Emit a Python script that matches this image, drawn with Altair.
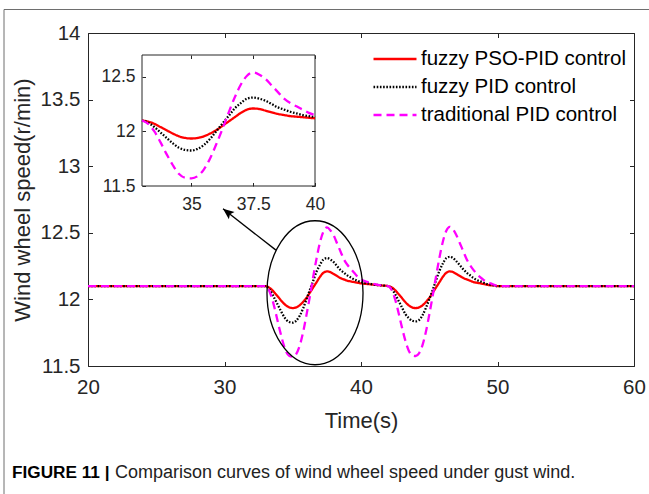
import altair as alt
import pandas as pd

# ---------------- values ----------------
time_s = [20, 25, 30, 32,
          33.0, 33.25, 33.5, 33.75, 34.0, 34.25, 34.5, 34.75, 35.0, 35.25, 35.5, 35.75,
          36.0, 36.25, 36.5, 36.75, 37.0, 37.25, 37.5, 37.75, 38.0, 38.25, 38.5, 38.75,
          39.0, 39.25, 39.5, 39.75, 40.0, 40.5, 41.0, 41.5,
          42.0, 42.25, 42.5, 42.75, 43.0, 43.25, 43.5, 43.75, 44.0, 44.25, 44.5, 44.75,
          45.0, 45.25, 45.5, 45.75, 46.0, 46.25, 46.5, 46.75, 47.0, 47.25, 47.5, 47.75,
          48.0, 48.25, 48.5, 48.75, 49.0, 49.25, 49.5, 49.75, 50.0,
          51, 52, 55, 60]

fuzzy_pso_pid = [12.10, 12.10, 12.10, 12.10,
                 12.10, 12.09, 12.07, 12.04, 12.01, 11.98, 11.955, 11.94, 11.935, 11.94, 11.955, 11.98,
                 12.01, 12.05, 12.09, 12.13, 12.17, 12.20, 12.21, 12.205, 12.19, 12.175, 12.16, 12.15,
                 12.14, 12.135, 12.13, 12.125, 12.12, 12.115, 12.11, 12.105,
                 12.10, 12.09, 12.07, 12.04, 12.01, 11.98, 11.955, 11.94, 11.935, 11.94, 11.955, 11.98,
                 12.01, 12.05, 12.09, 12.13, 12.17, 12.20, 12.21, 12.205, 12.19, 12.175, 12.16, 12.15,
                 12.14, 12.13, 12.125, 12.12, 12.115, 12.11, 12.105, 12.105, 12.10,
                 12.10, 12.10, 12.10, 12.10]

fuzzy_pid = [12.10, 12.10, 12.10, 12.10,
             12.10, 12.08, 12.04, 11.99, 11.94, 11.89, 11.85, 11.83, 11.825, 11.84, 11.875, 11.93,
             12.00, 12.07, 12.14, 12.21, 12.26, 12.30, 12.31, 12.30, 12.28, 12.25, 12.22, 12.20,
             12.18, 12.165, 12.15, 12.14, 12.13, 12.12, 12.11, 12.105,
             12.10, 12.08, 12.04, 11.99, 11.94, 11.89, 11.86, 11.84, 11.835, 11.845, 11.88, 11.935,
             12.00, 12.07, 12.145, 12.215, 12.27, 12.31, 12.32, 12.31, 12.285, 12.255, 12.225, 12.20,
             12.18, 12.16, 12.145, 12.135, 12.125, 12.115, 12.11, 12.105, 12.10,
             12.10, 12.10, 12.10, 12.10]

traditional_pid = [12.10, 12.10, 12.10, 12.10,
                   12.10, 12.07, 12.00, 11.90, 11.79, 11.69, 11.61, 11.575, 11.57, 11.59, 11.65, 11.75,
                   11.88, 12.02, 12.17, 12.31, 12.43, 12.51, 12.54, 12.52, 12.48, 12.42, 12.36, 12.30,
                   12.26, 12.23, 12.20, 12.17, 12.15, 12.13, 12.115, 12.105,
                   12.10, 12.07, 12.00, 11.90, 11.79, 11.69, 11.615, 11.58, 11.575, 11.595, 11.655, 11.755,
                   11.885, 12.025, 12.175, 12.315, 12.435, 12.515, 12.545, 12.525, 12.48, 12.42, 12.36, 12.30,
                   12.255, 12.22, 12.19, 12.165, 12.145, 12.13, 12.12, 12.11, 12.10,
                   12.10, 12.10, 12.10, 12.10]

series_names = ["fuzzy PSO-PID control", "fuzzy PID control", "traditional PID control"]
series_colors = ["#ff0000", "#000000", "#ff00ff"]
series_dashes = [[1, 0], [1.6, 1.6], [8, 5]]

x_domain = [20, 60]
y_domain = [11.5, 14]
x_ticks = [20, 30, 40, 50, 60]
y_ticks = [11.5, 12, 12.5, 13, 13.5, 14]

inset_x_domain = [33, 40]
inset_y_domain = [11.5, 12.7]
inset_x_ticks = [35, 37.5, 40]
inset_y_ticks = [11.5, 12, 12.5]

ellipse_t = [36.63]
ellipse_v = [12.05]
arrow_t = [33.77, 29.89]
arrow_v = [12.37, 12.68]

x_title = "Time(s)"
y_title = "Wind wheel speed(r/min)"
caption_bold = "FIGURE 11 |"
caption_text = "Comparison curves of wind wheel speed under gust wind."

# ---------------- layout (pixels) ----------------
W, H = 546, 333
PAD = {"left": 88, "top": 33, "right": 15, "bottom": 128}
IN_X = [54, 227]      # inset left/right inside plot area
IN_Y = [153, 22]      # inset bottom/top inside plot area
FONT = "Liberation Sans"
AX = "#262626"
FMT = ".3~r"

rows = []
for name, vals in zip(series_names, [fuzzy_pso_pid, fuzzy_pid, traditional_pid]):
    assert len(vals) == len(time_s)
    for t, v in zip(time_s, vals):
        rows.append({"t": t, "v": v, "series": name})
df = pd.DataFrame(rows)

x_main = alt.Scale(domain=x_domain, nice=False, zero=False)
y_main = alt.Scale(domain=y_domain, nice=False, zero=False)
x_in = alt.Scale(domain=inset_x_domain, range=IN_X, nice=False, zero=False)
y_in = alt.Scale(domain=inset_y_domain, range=IN_Y, nice=False, zero=False)

color_scale = alt.Scale(domain=series_names, range=series_colors)
dash_scale = alt.Scale(domain=series_names, range=series_dashes)


def tick_layer(channel, scale, values, orient, offset, size, domain=False, z=0):
    ax = alt.Axis(orient=orient, offset=offset, values=values, labels=False, title=None,
                  tickSize=size, domain=domain, grid=False, zindex=z)
    if channel == "x":
        enc = {"x": alt.X("t:Q", scale=scale, axis=ax)}
    else:
        enc = {"y": alt.Y("v:Q", scale=scale, axis=ax)}
    return alt.Chart(df).mark_point(opacity=0).encode(**enc)


# ---------------- main panel ----------------
main_lines = alt.Chart(df).mark_line(strokeWidth=2.3, interpolate="monotone").encode(
    x=alt.X("t:Q", scale=x_main,
            axis=alt.Axis(orient="bottom", title=x_title, values=x_ticks, format=FMT,
                          tickSize=0, labelPadding=11, labelFontSize=20.5, titleFontSize=22,
                          titlePadding=13, labelFlush=False)),
    y=alt.Y("v:Q", scale=y_main,
            axis=alt.Axis(orient="left", title=y_title, values=y_ticks, format=FMT,
                          tickSize=0, labelPadding=8, labelFontSize=20.5, titleFontSize=22,
                          titlePadding=6, labelFlush=False)),
    color=alt.Color("series:N", scale=color_scale, legend=alt.Legend(title=None)),
    strokeDash=alt.StrokeDash("series:N", scale=dash_scale, legend=alt.Legend(title=None)),
)

ellipse_path = ("M -0.667 0 C -0.667 -0.552 -0.368 -1 0 -1 C 0.368 -1 0.667 -0.552 0.667 0 "
                "C 0.667 0.552 0.368 1 0 1 C -0.368 1 -0.667 0.552 -0.667 0 Z")
ellipse = alt.Chart(pd.DataFrame({"t": ellipse_t, "v": ellipse_v})).mark_point(
    shape=ellipse_path, size=144 * 144, filled=False, color="black", strokeWidth=1.3, opacity=1
).encode(x=alt.X("t:Q", scale=x_main, axis=None), y=alt.Y("v:Q", scale=y_main, axis=None))

arrow_df = pd.DataFrame({"t": arrow_t, "v": arrow_v})
arrow_line = alt.Chart(arrow_df).mark_line(color="black", strokeWidth=1.3).encode(
    x=alt.X("t:Q", scale=x_main, axis=None), y=alt.Y("v:Q", scale=y_main, axis=None))
arrow_head = alt.Chart(arrow_df.tail(1)).mark_point(
    shape="M 0 0 L 0.42 1 L 0 0.8 L -0.42 1 Z", size=484, filled=True, color="black",
    angle=307.7, opacity=1
).encode(x=alt.X("t:Q", scale=x_main, axis=None), y=alt.Y("v:Q", scale=y_main, axis=None))

main = alt.layer(
    main_lines, ellipse, arrow_line, arrow_head,
    tick_layer("x", x_main, x_ticks, "top", -H, 4.5),
    tick_layer("x", x_main, x_ticks, "bottom", -H, 4.5, domain=True),
    tick_layer("y", y_main, y_ticks, "right", -W, 4.5),
    tick_layer("y", y_main, y_ticks, "left", -W, 4.5, domain=True),
).resolve_axis(x="independent", y="independent")

# ---------------- inset panel ----------------
inset_box = alt.Chart(pd.DataFrame({"a": [0]})).mark_rect(
    fill="white", stroke=AX, strokeWidth=1
).encode(
    x=alt.XDatum(inset_x_domain[0], scale=x_in, axis=None),
    x2=alt.X2Datum(inset_x_domain[1]),
    y=alt.YDatum(inset_y_domain[0], scale=y_in, axis=None),
    y2=alt.Y2Datum(inset_y_domain[1]),
)

inset_lines = alt.Chart(df).transform_filter(
    (alt.datum.t >= inset_x_domain[0]) & (alt.datum.t <= inset_x_domain[1])
).mark_line(strokeWidth=2.3, interpolate="monotone").encode(
    x=alt.X("t:Q", scale=x_in,
            axis=alt.Axis(orient="bottom", offset=-(H - IN_Y[0]), values=inset_x_ticks,
                          format=FMT, title=None, tickSize=0, labelPadding=9,
                          labelFontSize=17.5, domain=False, zindex=1, labelFlush=False)),
    y=alt.Y("v:Q", scale=y_in,
            axis=alt.Axis(orient="left", offset=-IN_X[0], values=inset_y_ticks,
                          format=FMT, title=None, tickSize=0, labelPadding=7,
                          labelFontSize=17.5, domain=False, zindex=1, labelFlush=False)),
    color=alt.Color("series:N", scale=color_scale, legend=None),
    strokeDash=alt.StrokeDash("series:N", scale=dash_scale, legend=None),
)

inset = alt.layer(
    inset_box, inset_lines,
    tick_layer("x", x_in, inset_x_ticks, "top", -IN_Y[0], 3.5, z=1),
    tick_layer("x", x_in, inset_x_ticks, "bottom", -(H - IN_Y[1]), 3.5, z=1),
    tick_layer("y", y_in, inset_y_ticks, "right", -(W - IN_X[0]), 3.5, z=1),
    tick_layer("y", y_in, inset_y_ticks, "left", -IN_X[1], 3.5, z=1),
).resolve_axis(x="independent", y="independent")

# ---------------- figure frame and caption ----------------
frame_top = alt.Chart(pd.DataFrame({"a": [0]})).mark_rule(color="#6e6e6e", strokeWidth=1).encode(
    x=alt.value(-84), x2=alt.value(W + 20), y=alt.value(-23.5))
frame_left = alt.Chart(pd.DataFrame({"a": [0]})).mark_rule(color="#6e6e6e", strokeWidth=1).encode(
    x=alt.value(-84), y=alt.value(-23.5), y2=alt.value(H + 140))

cap_bold = alt.Chart(pd.DataFrame({"s": [caption_bold]})).mark_text(
    align="left", baseline="alphabetic", font=FONT, fontSize=17.2, fontWeight="bold", color="black"
).encode(x=alt.value(-76), y=alt.value(445), text="s:N")
cap_text = alt.Chart(pd.DataFrame({"s": [caption_text]})).mark_text(
    align="left", baseline="alphabetic", font=FONT, fontSize=18, color="#222222"
).encode(x=alt.value(27), y=alt.value(445), text="s:N")

# legend symbol: a horizontal stroke twice as long as the symbol's layout box
LEG_SYM = "M -2 0 L 2 0"

chart = alt.layer(main, inset, frame_top, frame_left, cap_bold, cap_text).resolve_scale(
    x="independent", y="independent"
).properties(
    width=W, height=H,
    autosize=alt.AutoSizeParams(type="none"),
    padding=PAD,
    background="white",
).configure_view(stroke=None).configure_axis(
    labelFont=FONT, titleFont=FONT, labelColor=AX, titleColor=AX,
    domainColor=AX, tickColor=AX, titleFontWeight="normal", grid=False, domainWidth=1, tickWidth=1
).configure_legend(
    orient="none", legendX=295, legendY=14, symbolType=LEG_SYM, symbolSize=462,
    symbolStrokeWidth=2.3, labelFontSize=20.5, labelFont=FONT, labelColor="black",
    rowPadding=5, padding=0, labelOffset=14, labelLimit=400
)

chart.save("out.html", embed_options={"renderer": "svg", "actions": False})
